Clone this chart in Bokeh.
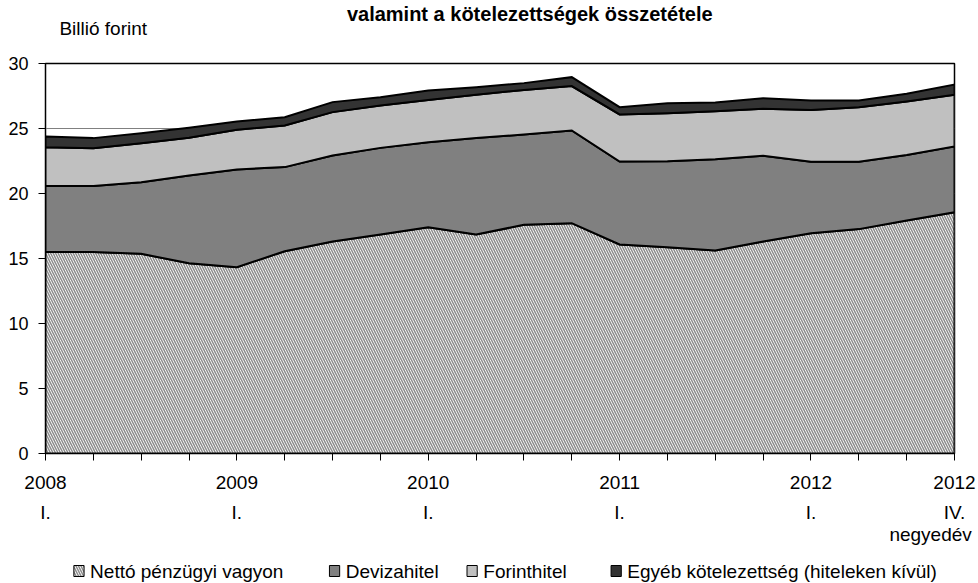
import numpy as np
from bokeh.plotting import figure
from bokeh.layouts import column
from bokeh.models import Range1d, FixedTicker, LinearAxis
from bokeh.core.properties import value
from bokeh.embed import file_html
from bokeh.resources import INLINE

# ---------------- data ----------------
quarters = ["2008 I.", "2008 II.", "2008 III.", "2008 IV.",
            "2009 I.", "2009 II.", "2009 III.", "2009 IV.",
            "2010 I.", "2010 II.", "2010 III.", "2010 IV.",
            "2011 I.", "2011 II.", "2011 III.", "2011 IV.",
            "2012 I.", "2012 II.", "2012 III.", "2012 IV."]

netto = [15.50, 15.50, 15.36, 14.64, 14.33, 15.56, 16.30, 16.85, 17.41, 16.85,
         17.59, 17.72, 16.08, 15.87, 15.62, 16.31, 16.95, 17.26, 17.92, 18.56]
deviza = [5.07, 5.07, 5.51, 6.74, 7.52, 6.47, 6.62, 6.66, 6.54, 7.41,
          6.95, 7.13, 6.38, 6.62, 7.02, 6.59, 5.49, 5.18, 5.05, 5.06]
forint = [2.99, 2.92, 3.00, 2.90, 3.05, 3.20, 3.34, 3.26, 3.25, 3.33,
          3.43, 3.41, 3.62, 3.69, 3.69, 3.61, 3.99, 4.20, 4.11, 3.97]
egyeb = [0.82, 0.77, 0.77, 0.77, 0.64, 0.64, 0.77, 0.64, 0.72, 0.59,
         0.52, 0.69, 0.56, 0.77, 0.67, 0.82, 0.72, 0.51, 0.59, 0.79]

series_names = ["Nettó pénzügyi vagyon", "Devizahitel", "Forinthitel",
                "Egyéb kötelezettség (hiteleken kívül)"]
year_labels = {0: "2008", 4: "2009", 8: "2010", 12: "2011", 16: "2012", 19: "2012"}
quarter_labels = {0: "I.", 4: "I.", 8: "I.", 12: "I.", 16: "I.", 19: "IV."}
period_label = {18.5: "negyedév"}
y_ticks = [0, 5, 10, 15, 20, 25, 30]
title_text = "valamint a kötelezettségek összetétele"
unit_text = "Billió forint"

# ---------------- styling / layout ----------------
FONT = "Liberation Sans"
fills = ["white", "#808080", "#c0c0c0", "#333333"]
hatches = ["left_diagonal_line", None, None, None]
HATCH = dict(hatch_color="#8c8c8c", hatch_scale=5, hatch_weight=1.5)
legend_left_px = [30, 305, 453, 608]   # layout positions of legend entries
W = 978
TOP_H = 51          # strip with the titles
MAIN_TOP = 12       # border above the frame inside the main figure
FRAME_H = 390
MAIN_BOTTOM = 105
LEG_H = 583 - TOP_H - MAIN_TOP - FRAME_H - MAIN_BOTTOM

x = list(range(len(quarters)))
values = np.array([netto, deviza, forint, egyeb])
tops = np.cumsum(values, axis=0)
bottoms = np.vstack([np.zeros(len(x)), tops[:-1]])

# ---------------- title strip ----------------
tf = figure(width=W, height=TOP_H, x_range=Range1d(0, W), y_range=Range1d(0, TOP_H),
            x_axis_location=None, y_axis_location=None, min_border=0, title=None,
            output_backend="svg", toolbar_location=None)
tf.outline_line_color = None
tf.xgrid.visible = False
tf.ygrid.visible = False
tf.text(x=[521], y=[TOP_H - 13], text=[title_text], text_font=value(FONT),
        text_font_size="20px", text_font_style="bold", text_color="black",
        text_align="center", text_baseline="middle")
tf.text(x=[15], y=[TOP_H - 27.5], text=[unit_text], text_font=value(FONT),
        text_font_size="19px", text_color="black",
        text_align="left", text_baseline="middle")

# ---------------- main chart ----------------
p = figure(frame_width=909, frame_height=FRAME_H, title=None,
           min_border_left=45, min_border_right=24,
           min_border_top=MAIN_TOP, min_border_bottom=MAIN_BOTTOM,
           x_range=Range1d(x[0], x[-1]), y_range=Range1d(y_ticks[0], y_ticks[-1]),
           output_backend="svg", toolbar_location=None)
p.background_fill_color = "white"
p.border_fill_color = "white"
p.outline_line_color = "black"
p.outline_line_width = 1.5

for i, name in enumerate(series_names):
    xs = x + x[::-1]
    ys = list(tops[i]) + list(bottoms[i][::-1])
    kw = dict(fill_color=fills[i], line_color="black", line_width=2, line_join="miter")
    if hatches[i]:
        kw.update(hatch_pattern=hatches[i], **HATCH)
    p.patch(xs, ys, **kw)

p.xaxis.ticker = FixedTicker(ticks=x)
p.xaxis.major_label_overrides = {i: year_labels.get(i, "") for i in x}
p.yaxis.ticker = FixedTicker(ticks=y_ticks)
for ax in (p.xaxis, p.yaxis):
    ax.axis_line_color = "black"
    ax.axis_line_width = 1
    ax.major_tick_line_color = "black"
    ax.major_tick_out = 7
    ax.major_tick_in = 0
    ax.minor_tick_line_color = None
    ax.major_label_text_font = FONT
    ax.major_label_text_color = "black"
p.xaxis.major_label_text_font_size = "19px"
p.yaxis.major_label_text_font_size = "18px"
p.xaxis.major_label_standoff = 15
p.yaxis.major_label_standoff = 10

def text_axis(labels, standoff):
    ax = LinearAxis(ticker=FixedTicker(ticks=list(labels)),
                    major_label_overrides=labels,
                    axis_line_color=None, major_tick_line_color=None,
                    minor_tick_line_color=None, major_tick_out=0, major_tick_in=0,
                    major_label_standoff=standoff, major_label_text_font=FONT,
                    major_label_text_font_size="19px", major_label_text_color="black")
    p.add_layout(ax, "below")
    return ax

text_axis(quarter_labels, 10)
text_axis(period_label, -2)

p.xgrid.grid_line_color = None
p.ygrid.ticker = FixedTicker(ticks=y_ticks)
p.ygrid.grid_line_color = "#808080"
p.ygrid.grid_line_width = 1

# ---------------- legend strip ----------------
lf = figure(width=W, height=LEG_H, x_range=Range1d(0, W), y_range=Range1d(0, LEG_H),
            x_axis_location=None, y_axis_location=None, min_border=0, title=None,
            output_backend="svg", toolbar_location=None)
lf.outline_line_color = None
lf.xgrid.visible = False
lf.ygrid.visible = False
yc = LEG_H - 12.5
for i, name in enumerate(series_names):
    kw = dict(fill_color=fills[i], line_color="black", line_width=1)
    if hatches[i]:
        kw.update(hatch_pattern=hatches[i], **HATCH)
    lf.rect(x=[legend_left_px[i] + 6], y=[yc], width=11, height=11, **kw)
    lf.text(x=[legend_left_px[i] + 18], y=[yc], text=[name], text_font=value(FONT),
            text_font_size="19px", text_color="black", text_baseline="middle",
            text_align="left")

layout = column(tf, p, lf, spacing=0)
open("out.html", "w").write(file_html(layout, INLINE))
